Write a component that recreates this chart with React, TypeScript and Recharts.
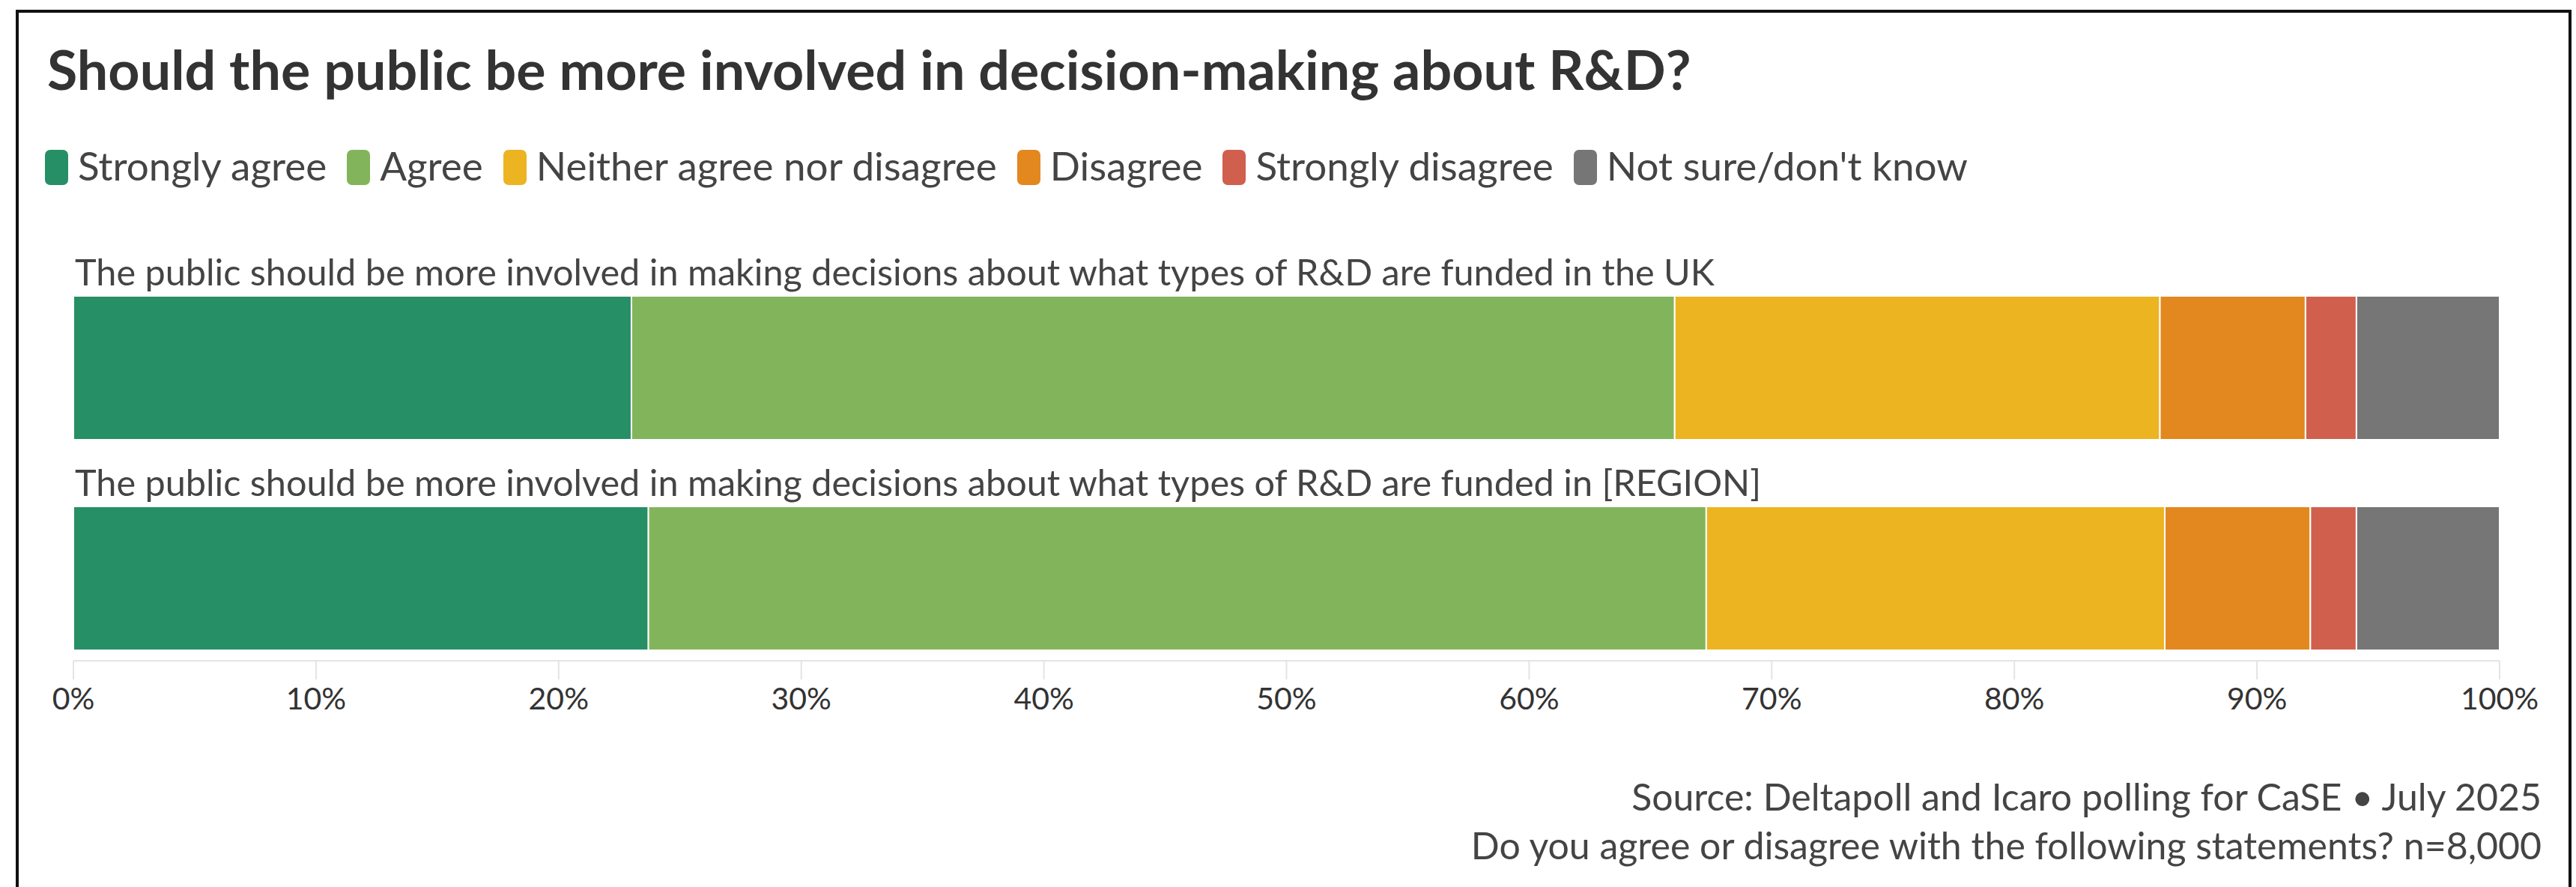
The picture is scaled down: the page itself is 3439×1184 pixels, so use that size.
import React from 'react';
import { BarChart, Bar, XAxis, YAxis } from 'recharts';

const categories = [
  'The public should be more involved in making decisions about what types of R&D are funded in the UK',
  'The public should be more involved in making decisions about what types of R&D are funded in [REGION]',
];
const seriesNames = [
  'Strongly agree',
  'Agree',
  'Neither agree nor disagree',
  'Disagree',
  'Strongly disagree',
  "Not sure/don't know",
];
const seriesColors = ['#268F65', '#82B55B', '#EDB421', '#E2881F', '#D05F4E', '#767676'];
const strongAgree = [23.0, 23.7];
const agree = [43.0, 43.6];
const neither = [20.0, 18.9];
const disagree = [6.0, 6.0];
const strongDisagree = [2.1, 1.9];
const notSure = [5.9, 5.9];
const xTicks = [0, 10, 20, 30, 40, 50, 60, 70, 80, 90, 100];
const titleText = 'Should the public be more involved in decision-making about R&D?';
const sourceText = 'Source: Deltapoll and Icaro polling for CaSE \u2022 July 2025';
const questionText = 'Do you agree or disagree with the following statements? n=8,000';

const seriesValues = [strongAgree, agree, neither, disagree, strongDisagree, notSure];
const seriesKeys = seriesNames.map((_, k) => `s${k}`);
const data = categories.map((c, i) => {
  const row: Record<string, any> = { category: c };
  seriesValues.forEach((vals, k) => {
    row[seriesKeys[k]] = vals[i];
  });
  return row;
});

const FONT = 'Lato, "Open Sans", sans-serif';
const W = 3439;
const H = 1184;
const PLOT_LEFT = 98;
const PLOT_RIGHT = 3337;
const Y_AXIS_W = 10;

const CategoryTick = (props: any) => {
  const { y, payload } = props;
  return (
    <text x={PLOT_LEFT + 2} y={y - 110} fill="#444" fontSize={48.6} fontFamily={FONT} textAnchor="start">
      {payload.value}
    </text>
  );
};

export default function App() {
  return (
    <div
      style={{
        position: 'absolute',
        left: 0,
        top: 0,
        width: W,
        height: H,
        overflow: 'hidden',
        background: '#fff',
        fontFamily: FONT,
      }}
    >
      <div
        style={{
          position: 'absolute',
          left: 21,
          top: 13,
          width: 3412,
          height: 1300,
          border: '4px solid #111',
          boxSizing: 'border-box',
        }}
      />
      <div style={{ position: 'absolute', left: 0, top: 0 }}>
        <BarChart
          width={W}
          height={1000}
          data={data}
          layout="vertical"
          margin={{ top: 350, right: W - PLOT_RIGHT, bottom: 38, left: PLOT_LEFT - Y_AXIS_W }}
          barCategoryGap={0}
        >
          <XAxis
            type="number"
            domain={[0, 100]}
            ticks={xTicks}
            interval={0}
            tickFormatter={(v: number) => `${v}%`}
            height={80}
            axisLine={{ stroke: '#e4e4e4', strokeWidth: 2 }}
            tickLine={{ stroke: '#e4e4e4', strokeWidth: 2 }}
            tickSize={25}
            tickMargin={11}
            tick={{ fill: '#333', fontSize: 41, fontFamily: FONT }}
          />
          <YAxis
            type="category"
            dataKey="category"
            width={Y_AXIS_W}
            axisLine={false}
            tickLine={false}
            interval={0}
            padding={{ top: 0, bottom: -30 }}
            tick={(p: any) => <CategoryTick {...p} />}
          />
          {seriesKeys.map((k, idx) => (
            <Bar
              key={k}
              dataKey={k}
              name={seriesNames[idx]}
              stackId="a"
              fill={seriesColors[idx]}
              stroke="#ffffff"
              strokeWidth={2}
              barSize={192}
              isAnimationActive={false}
            />
          ))}
        </BarChart>
      </div>
      <svg width={W} height={H} style={{ position: 'absolute', left: 0, top: 0, pointerEvents: 'none' }}>
        <text x={63} y={120} fontSize={73.6} fontWeight={700} fill="#333" fontFamily={FONT}>
          {titleText}
        </text>
        <text x={3393} y={1082} fontSize={50} fill="#444" fontFamily={FONT} textAnchor="end">
          {sourceText}
        </text>
        <text x={3393} y={1147} fontSize={50} fill="#444" fontFamily={FONT} textAnchor="end">
          {questionText}
        </text>
      </svg>
      <div
        style={{
          position: 'absolute',
          left: 60,
          top: 200,
          height: 47,
          display: 'flex',
          alignItems: 'center',
          whiteSpace: 'nowrap',
        }}
      >
        {seriesNames.map((n, idx) => (
          <div key={n} style={{ display: 'flex', alignItems: 'center', marginRight: 27 }}>
            <div
              style={{
                width: 31,
                height: 47,
                borderRadius: 7,
                background: seriesColors[idx],
                marginRight: 13,
              }}
            />
            <span
              style={{
                fontSize: 53,
                lineHeight: '47px',
                color: '#444',
                position: 'relative',
                top: -3,
                fontFamily: FONT,
              }}
            >
              {n}
            </span>
          </div>
        ))}
      </div>
    </div>
  );
}
